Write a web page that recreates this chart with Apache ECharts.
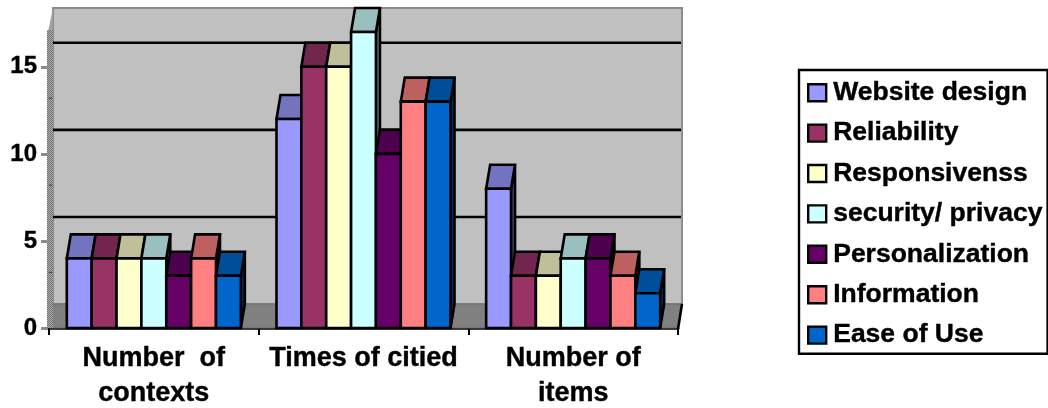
<!DOCTYPE html>
<html>
<head>
<meta charset="utf-8">
<style>
  html, body { margin: 0; padding: 0; background: #fff; }
  #chart { width: 1048px; height: 408px; }
</style>
<script src="https://cdn.jsdelivr.net/npm/echarts@6/dist/echarts.min.js"></script>
</head>
<body>
<div id="chart"></div>
<script>
const categories = ['Number  of\ncontexts', 'Times of citied', 'Number of\nitems'];
const websiteDesign = [4, 12, 8];
const reliability = [4, 15, 3];
const responsiveness = [4, 15, 3];
const securityPrivacy = [4, 17, 4];
const personalization = [3, 10, 4];
const information = [4, 13, 3];
const easeOfUse = [3, 13, 2];
const yTicks = [0, 5, 10, 15];
const wallNotches = [3.2, 8.2, 13.2];

const seriesDefs = [
  ['Website design', websiteDesign, '#9999FF'],
  ['Reliability', reliability, '#993366'],
  ['Responsivenss', responsiveness, '#FFFFCC'],
  ['security/ privacy', securityPrivacy, '#CCFFFF'],
  ['Personalization', personalization, '#660066'],
  ['Information', information, '#FF8080'],
  ['Ease of Use', easeOfUse, '#0066CC']
];

// Oblique projection of the box: how far the rear plane shifts from the front plane.
const DX = 4, DY = 24;
const GROUP_RATIO = 0.83;
const STROKE = 2.6;
const FONT = '"Liberation Sans", Arial, sans-serif';
const TEXT = {
  color: '#000', fontFamily: FONT, fontWeight: 'bold',
  textBorderColor: '#000', textBorderWidth: 0.4
};

function shade(hex, k) {
  const n = parseInt(hex.slice(1), 16);
  const c = [(n >> 16) & 255, (n >> 8) & 255, n & 255].map(v => Math.round(v * k));
  return 'rgb(' + c.join(',') + ')';
}

// Checkered fill for the edge of the left wall.
function ditherFill() {
  const cv = document.createElement('canvas');
  cv.width = cv.height = 2;
  const g = cv.getContext('2d');
  g.fillStyle = '#b0b0b0';
  g.fillRect(0, 0, 2, 2);
  g.fillStyle = '#6e6e6e';
  g.fillRect(0, 0, 1, 1);
  g.fillRect(1, 1, 1, 1);
  return { image: cv, repeat: 'repeat' };
}

function renderWalls(params, api) {
  const cs = params.coordSys;
  const x0 = cs.x, x1 = cs.x + cs.width, yTop = cs.y, yBase = cs.y + cs.height;
  const kids = [
    { type: 'polygon', shape: { points: [[x0 + DX, yTop - DY], [x1 + DX, yTop - DY], [x1 + DX, yBase - DY], [x0 + DX, yBase - DY]] },
      style: { fill: '#c0c0c0', stroke: '#8c8c8c', lineWidth: 2 } },
    { type: 'polygon', shape: { points: [[x0, yBase], [x0 + DX, yBase - DY], [x1 + DX, yBase - DY], [x1, yBase]] },
      style: { fill: '#808080', stroke: '#6a6a6a', lineWidth: 1 } },
    { type: 'polygon', shape: { points: [[x0 - 1, yTop], [x0 + DX, yTop - DY], [x0 + DX, yTop]] },
      style: { fill: '#a0a0a0' } },
    { type: 'rect', shape: { x: x0 - 2, y: yTop - 2, width: DX + 2, height: yBase - yTop + 2 },
      style: { fill: ditherFill() } },
    { type: 'line', shape: { x1: x1, y1: yBase + 1, x2: x1 + DX, y2: yBase - DY },
      style: { stroke: '#000', lineWidth: STROKE } }
  ];
  yTicks.slice(1).forEach(t => {
    const y = api.coord([0, t])[1] - DY;
    kids.push({ type: 'line', shape: { x1: x0 + DX, y1: y, x2: x1 + DX - 1, y2: y },
      style: { stroke: '#000', lineWidth: STROKE } });
  });
  wallNotches.forEach(t => {
    const y = api.coord([0, t])[1];
    kids.push({ type: 'line', shape: { x1: x0, y1: y, x2: x0 + DX - 1, y2: y },
      style: { stroke: '#333', lineWidth: 1 } });
  });
  return { type: 'group', children: kids };
}

function barRenderer(index, color) {
  return function (params, api) {
    const band = api.size([1, 0])[0];
    const groupW = band * GROUP_RATIO;
    const w = groupW / seriesDefs.length;
    const cat = api.value(0);
    const base = api.coord([cat, 0]);
    const top = api.coord([cat, api.value(1)]);
    const l = base[0] - groupW / 2 + w * index;
    const r = l + w;
    const yb = base[1], yt = top[1];
    const edge = { stroke: '#000', lineWidth: STROKE, lineJoin: 'miter' };
    return {
      type: 'group',
      children: [
        { type: 'polygon', shape: { points: [[r, yt], [r + DX, yt - DY], [r + DX, yb - DY], [r, yb]] },
          style: Object.assign({ fill: shade(color, 0.5) }, edge) },
        { type: 'polygon', shape: { points: [[l, yt], [l + DX, yt - DY], [r + DX, yt - DY], [r, yt]] },
          style: Object.assign({ fill: shade(color, 0.75) }, edge) },
        { type: 'rect', shape: { x: l, y: yt, width: w, height: yb - yt },
          style: Object.assign({ fill: color }, edge) }
      ]
    };
  };
}

const chart = echarts.init(document.getElementById('chart'), null, { renderer: 'canvas' });

chart.setOption({
  animation: false,
  backgroundColor: '#fff',
  grid: { left: 49, right: 370, top: 32, bottom: 80, outerBoundsMode: 'none' },
  xAxis: {
    type: 'category',
    data: categories,
    axisLine: { show: true, onZero: false, lineStyle: { color: '#000', width: STROKE } },
    axisTick: { show: true, alignWithLabel: false, length: 7, lineStyle: { color: '#000', width: 2 } },
    axisLabel: Object.assign({ interval: 0, margin: 13, fontSize: 27, lineHeight: 35 }, TEXT)
  },
  yAxis: {
    type: 'value',
    min: 0,
    max: 17,
    interval: 5,
    splitLine: { show: false },
    axisLine: { show: false },
    axisTick: { show: true, length: 8, customValues: yTicks, lineStyle: { color: '#8a8a8a', width: 3 } },
    axisLabel: Object.assign({ margin: 12, customValues: yTicks, fontSize: 24 }, TEXT)
  },
  legend: {
    orient: 'vertical',
    left: 799,
    top: 70,
    padding: [9, 5, 5, 8],
    backgroundColor: '#fff',
    borderColor: '#000',
    borderWidth: 2.4,
    borderRadius: 0,
    itemWidth: 18,
    itemHeight: 17,
    itemGap: 13,
    icon: 'rect',
    selectedMode: false,
    itemStyle: { borderColor: '#000', borderWidth: 2.4 },
    textStyle: Object.assign({ fontSize: 26.5, padding: [0, 0, 0, 2] }, TEXT),
    data: seriesDefs.map(d => d[0])
  },
  series: [
    { type: 'custom', name: 'walls', silent: true, renderItem: renderWalls, data: [[0, 0]], encode: { x: 0, y: 1 } }
  ].concat(seriesDefs.map((d, i) => ({
    type: 'custom',
    name: d[0],
    silent: true,
    itemStyle: { color: d[2] },
    renderItem: barRenderer(i, d[2]),
    encode: { x: 0, y: 1 },
    data: d[1].map((v, c) => [c, v])
  })))
});
</script>
</body>
</html>
